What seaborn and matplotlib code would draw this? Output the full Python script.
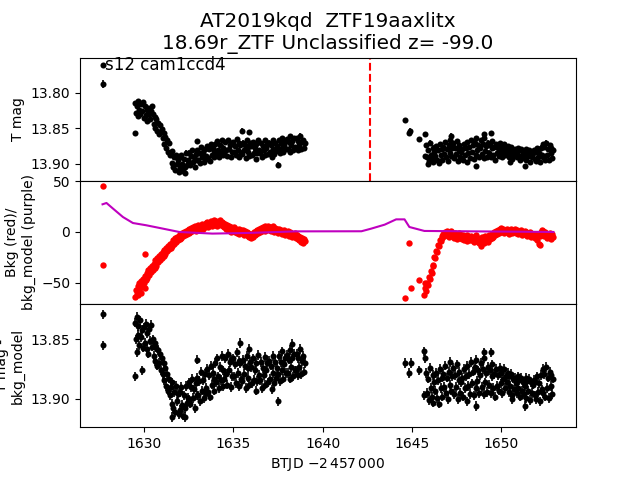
import numpy as np
import matplotlib
matplotlib.use("Agg")
import matplotlib.pyplot as plt
import seaborn as sns

# ---------------- data ----------------
# regular time grids (BTJD - 2457000) of the two TESS orbits
seg1_start, seg1_stop = 1629.5, 1639.0
seg2_start, seg2_stop = 1645.8, 1652.9

# T mag, orbit 1
tmag1 = [13.814, 13.828, 13.819, 13.833, 13.811, 13.824, 13.830, 13.816, 13.826, 13.813,
         13.835, 13.819, 13.831, 13.824, 13.839, 13.821, 13.829, 13.837, 13.826, 13.818,
         13.830, 13.844, 13.834, 13.849, 13.837, 13.853, 13.842, 13.858, 13.845, 13.855,
         13.851, 13.864, 13.856, 13.872, 13.862, 13.877, 13.866, 13.883, 13.871, 13.887,
         13.886, 13.899, 13.882, 13.904, 13.891, 13.909, 13.887, 13.900, 13.894, 13.912,
         13.891, 13.906, 13.887, 13.900, 13.910, 13.893, 13.904, 13.884, 13.901, 13.895,
         13.899, 13.884, 13.901, 13.889, 13.881, 13.897, 13.891, 13.905, 13.886, 13.895,
         13.881, 13.895, 13.884, 13.899, 13.876, 13.891, 13.883, 13.897, 13.879, 13.893,
         13.889, 13.875, 13.892, 13.879, 13.896, 13.872, 13.887, 13.878, 13.891, 13.882,
         13.872, 13.886, 13.868, 13.881, 13.890, 13.874, 13.884, 13.866, 13.888, 13.877,
         13.885, 13.869, 13.881, 13.889, 13.866, 13.879, 13.873, 13.891, 13.871, 13.883,
         13.869, 13.883, 13.875, 13.888, 13.865, 13.880, 13.871, 13.890, 13.873, 13.884,
         13.886, 13.870, 13.881, 13.874, 13.892, 13.867, 13.883, 13.876, 13.889, 13.871,
         13.875, 13.887, 13.869, 13.884, 13.877, 13.893, 13.872, 13.885, 13.866, 13.881,
         13.884, 13.871, 13.890, 13.875, 13.881, 13.867, 13.887, 13.877, 13.872, 13.886,
         13.870, 13.883, 13.874, 13.891, 13.867, 13.879, 13.886, 13.871, 13.882, 13.875,
         13.880, 13.866, 13.885, 13.871, 13.877, 13.863, 13.883, 13.873, 13.868, 13.879,
         13.865, 13.879, 13.869, 13.883, 13.861, 13.874, 13.868, 13.881, 13.864, 13.876,
         13.877, 13.864, 13.880, 13.868, 13.874, 13.860, 13.879, 13.869, 13.866, 13.877,
         13.871]
# T mag, orbit 2
tmag2 = [13.874, 13.891, 13.880, 13.896, 13.870, 13.887, 13.893, 13.877, 13.898, 13.883,
         13.889, 13.875, 13.895, 13.881, 13.899, 13.872, 13.887, 13.879, 13.894, 13.876,
         13.886, 13.869, 13.891, 13.879, 13.896, 13.874, 13.884, 13.866, 13.889, 13.878,
         13.871, 13.892, 13.877, 13.886, 13.868, 13.896, 13.881, 13.874, 13.891, 13.883,
         13.879, 13.894, 13.872, 13.887, 13.878, 13.898, 13.869, 13.885, 13.876, 13.892,
         13.866, 13.883, 13.874, 13.893, 13.870, 13.887, 13.864, 13.881, 13.873, 13.891,
         13.877, 13.867, 13.886, 13.872, 13.892, 13.863, 13.882, 13.875, 13.890, 13.870,
         13.884, 13.873, 13.891, 13.878, 13.868, 13.887, 13.876, 13.894, 13.872, 13.885,
         13.877, 13.889, 13.871, 13.883, 13.875, 13.891, 13.880, 13.872, 13.887, 13.878,
         13.883, 13.875, 13.890, 13.878, 13.885, 13.876, 13.893, 13.880, 13.888, 13.879,
         13.884, 13.891, 13.878, 13.887, 13.881, 13.894, 13.879, 13.889, 13.883, 13.892,
         13.886, 13.879, 13.895, 13.882, 13.889, 13.880, 13.897, 13.883, 13.891, 13.885,
         13.881, 13.893, 13.883, 13.896, 13.878, 13.890, 13.884, 13.898, 13.877, 13.888,
         13.872, 13.891, 13.876, 13.894, 13.870, 13.887, 13.879, 13.895, 13.874, 13.885,
         13.877, 13.892, 13.880]
# isolated / outlying T mag points
tmag_x_t = [1627.69, 1627.69, 1629.48, 1633.0, 1635.5, 1635.9, 1637.5, 1632.3,
            1644.61, 1644.85, 1644.90, 1645.40, 1645.70, 1645.75, 1645.90, 1647.2,
            1648.6, 1649.0, 1649.4, 1650.5, 1651.3]
tmag_x_v = [13.760, 13.787, 13.857, 13.868, 13.853, 13.855, 13.901, 13.913,
            13.838, 13.856, 13.853, 13.865, 13.858, 13.889, 13.900, 13.860,
            13.903, 13.858, 13.857, 13.898, 13.903]
tmag_x_e = [0.002, 0.006, 0.003, 0.003, 0.003, 0.003, 0.003, 0.003,
            0.003, 0.003, 0.003, 0.003, 0.003, 0.003, 0.003, 0.003,
            0.003, 0.003, 0.003, 0.003, 0.003]
tmag_err = 0.003

# background flux, orbit 1 and 2
bkg1 = [-64, -57, -61, -53, -59, -50, -55, -48, -52, -46,
        -50, -43, -47, -40, -45, -37, -42, -35, -39, -33,
        -37, -31, -35, -28, -33, -26, -30, -24, -28, -22,
        -26, -20, -24, -18, -22, -16, -19, -14, -17, -12,
        -16, -11, -14, -8, -12, -6, -10, -5, -8, -4,
        -7, -2, -6, -1, -4, 0, -3, 1, -2, 2,
        -1, 3, 0, 4, 1, 5, 2, 6, 1, 4,
        3, 7, 2, 6, 4, 8, 3, 7, 5, 9,
        6, 10, 5, 9, 7, 11, 6, 10, 8, 12,
        7, 11, 6, 10, 8, 12, 7, 10, 6, 9,
        5, 8, 3, 7, 2, 6, 1, 5, 0, 4,
        2, 5, 0, 3, -1, 2, -2, 3, 0, 2,
        -1, 2, -3, 1, -2, 0, -4, -1, -5, -2,
        -6, -2, -5, 0, -3, 1, -2, 2, -1, 3,
        0, 4, 1, 5, 2, 6, 1, 5, 3, 6,
        2, 5, 1, 4, 2, 6, 0, 4, 1, 3,
        -1, 3, 0, 2, -2, 1, -1, 2, -3, 0,
        -2, 1, -4, 0, -3, -1, -5, -2, -4, -1,
        -6, -3, -7, -4, -8, -5, -10, -6, -11, -7,
        -9]
bkg2 = [-58, -50, -52, -44, -46, -38, -40, -32, -33, -25,
        -26, -19, -20, -13, -14, -8, -9, -4, -6, -2,
        -4, 0, -3, 1, -2, -5, -1, -3, 1, -4,
        -2, -6, -1, -4, -7, -2, -5, -1, -6, -3,
        -7, -3, -8, -4, -6, -9, -3, -7, -5, -8,
        -4, -8, -6, -10, -5, -9, -3, -7, -6, -11,
        -7, -14, -5, -9, -6, -11, -4, -8, -5, -10,
        -3, -7, -4, -6, -2, -5, 0, -3, 1, -2,
        2, -1, 3, 0, 4, 1, 3, -1, 2, 0,
        3, 0, 2, -2, 1, 3, -1, 2, 0, 3,
        -1, 2, 0, -2, 1, -1, 2, -3, 0, -2,
        1, -2, 0, -4, -1, -3, 0, -5, -2, -4,
        -3, -6, -2, -5, -8, -3, -12, -4, 0, 2,
        -2, 1, -4, 0, -3, -6, -2, -5, -1, -7,
        -4, -2, -5]
bkg_x_t = [1627.69, 1627.69, 1630.09, 1629.65, 1629.85, 1630.05,
           1644.61, 1644.82, 1644.95, 1645.37, 1645.69, 1645.72, 1645.75, 1652.17]
bkg_x_v = [44.8, -32.6, -21.2, -62, -60, -55,
           -65.3, -10.4, -55.5, -47.7, -62, -55, -50, -13]

# background model (purple line)
model_t = [1627.69, 1627.91, 1628.28, 1628.83, 1629.39, 1630.13, 1631.06, 1631.98,
           1633.83, 1635.69, 1637.54, 1638.47, 1642.17, 1642.72, 1643.47, 1644.11,
           1644.58, 1644.85, 1645.69, 1647.72, 1652.91]
model_v = [27.2, 28.5, 22.9, 14.7, 8.8, 6.6, 3.3, 0.0,
           -1.6, -1.0, 0.0, 0.6, 0.7, 3.3, 7.2, 12.4,
           12.4, 4.9, 1.0, 0.7, 0.0]

# T mag - bkg_model, orbit 1 and 2
corr1 = [13.836, 13.850, 13.831, 13.846, 13.839, 13.855, 13.834, 13.848, 13.842, 13.857,
         13.840, 13.853, 13.837, 13.858, 13.845, 13.862, 13.841, 13.851, 13.838, 13.856,
         13.850, 13.864, 13.853, 13.868, 13.857, 13.872, 13.859, 13.870, 13.862, 13.876,
         13.866, 13.879, 13.870, 13.884, 13.874, 13.889, 13.879, 13.893, 13.883, 13.897,
         13.890, 13.904, 13.886, 13.908, 13.894, 13.911, 13.889, 13.902, 13.896, 13.913,
         13.894, 13.909, 13.890, 13.905, 13.914, 13.897, 13.908, 13.889, 13.903, 13.899,
         13.901, 13.886, 13.904, 13.890, 13.883, 13.899, 13.892, 13.908, 13.887, 13.897,
         13.882, 13.897, 13.885, 13.902, 13.877, 13.893, 13.884, 13.899, 13.879, 13.895,
         13.891, 13.875, 13.894, 13.880, 13.898, 13.872, 13.888, 13.878, 13.893, 13.883,
         13.870, 13.886, 13.866, 13.881, 13.891, 13.873, 13.884, 13.864, 13.889, 13.876,
         13.883, 13.866, 13.879, 13.888, 13.862, 13.876, 13.869, 13.890, 13.867, 13.881,
         13.866, 13.881, 13.871, 13.887, 13.861, 13.878, 13.868, 13.889, 13.870, 13.883,
         13.885, 13.867, 13.879, 13.872, 13.891, 13.864, 13.882, 13.874, 13.888, 13.869,
         13.873, 13.887, 13.866, 13.884, 13.876, 13.893, 13.870, 13.885, 13.863, 13.880,
         13.884, 13.869, 13.891, 13.874, 13.880, 13.865, 13.888, 13.876, 13.870, 13.886,
         13.868, 13.883, 13.872, 13.892, 13.864, 13.878, 13.887, 13.869, 13.882, 13.874,
         13.879, 13.864, 13.885, 13.869, 13.876, 13.860, 13.883, 13.871, 13.866, 13.878,
         13.863, 13.878, 13.867, 13.883, 13.859, 13.873, 13.866, 13.881, 13.862, 13.876,
         13.876, 13.862, 13.880, 13.866, 13.873, 13.858, 13.879, 13.868, 13.864, 13.877,
         13.870]
corr2 = [13.878, 13.895, 13.883, 13.901, 13.874, 13.891, 13.898, 13.880, 13.903, 13.886,
         13.893, 13.878, 13.899, 13.884, 13.904, 13.875, 13.891, 13.882, 13.898, 13.879,
         13.890, 13.872, 13.895, 13.882, 13.900, 13.877, 13.888, 13.869, 13.893, 13.881,
         13.874, 13.896, 13.880, 13.890, 13.871, 13.900, 13.884, 13.877, 13.895, 13.886,
         13.882, 13.898, 13.875, 13.891, 13.881, 13.902, 13.872, 13.889, 13.879, 13.896,
         13.869, 13.887, 13.877, 13.897, 13.873, 13.891, 13.867, 13.885, 13.876, 13.895,
         13.880, 13.870, 13.890, 13.875, 13.896, 13.866, 13.886, 13.878, 13.894, 13.873,
         13.888, 13.876, 13.895, 13.881, 13.871, 13.891, 13.879, 13.898, 13.875, 13.889,
         13.880, 13.893, 13.874, 13.887, 13.878, 13.895, 13.883, 13.875, 13.891, 13.881,
         13.886, 13.878, 13.894, 13.881, 13.889, 13.879, 13.897, 13.883, 13.892, 13.882,
         13.887, 13.895, 13.881, 13.891, 13.884, 13.898, 13.882, 13.893, 13.886, 13.896,
         13.889, 13.882, 13.899, 13.885, 13.893, 13.883, 13.901, 13.886, 13.895, 13.888,
         13.884, 13.897, 13.886, 13.900, 13.881, 13.894, 13.887, 13.902, 13.880, 13.892,
         13.875, 13.895, 13.879, 13.898, 13.873, 13.891, 13.882, 13.899, 13.877, 13.889,
         13.880, 13.896, 13.883]
corr_x_t = [1627.69, 1627.69, 1629.48, 1629.6, 1629.9, 1631.6, 1632.3, 1637.5,
            1633.0, 1635.4, 1635.9, 1638.3,
            1644.61, 1644.82, 1644.95, 1645.37, 1645.69, 1645.69, 1645.75,
            1648.6, 1649.0, 1649.4, 1650.6, 1651.3]
corr_x_v = [13.829, 13.855, 13.881, 13.861, 13.876, 13.915, 13.915, 13.902,
            13.867, 13.853, 13.858, 13.854,
            13.870, 13.878, 13.870, 13.876, 13.860, 13.897, 13.866,
            13.906, 13.861, 13.861, 13.900, 13.906]
corr_err = 0.004

peak_time = 1642.63
title = "AT2019kqd  ZTF19aaxlitx\n18.69r_ZTF Unclassified z= -99.0"
sector_label = "s12 cam1ccd4"

# ---------------- assemble ----------------
t1 = np.round(np.linspace(seg1_start, seg1_stop, len(tmag1)), 3)
t2 = np.round(np.linspace(seg2_start, seg2_stop, len(tmag2)), 3)
t_all = np.concatenate([t1, t2])

t_mag_t = np.concatenate([t_all, tmag_x_t])
t_mag_v = np.concatenate([tmag1, tmag2, tmag_x_v])
t_mag_e = np.concatenate([np.full(len(t_all), tmag_err), tmag_x_e])

bkg_t = np.concatenate([t_all, bkg_x_t])
bkg_v = np.concatenate([bkg1, bkg2, bkg_x_v])

corr_t = np.concatenate([t_all, corr_x_t])
corr_v = np.concatenate([corr1, corr2, corr_x_v])

# ---------------- plot ----------------
fig, axes = plt.subplots(3, 1, sharex=True, figsize=(6.4, 4.8), dpi=100)
fig.subplots_adjust(hspace=0)
ax1, ax2, ax3 = axes

ms_area = 19
ax1.errorbar(t_mag_t, t_mag_v, yerr=t_mag_e, fmt="none", ecolor="k", elinewidth=1.2)
sns.scatterplot(x=t_mag_t, y=t_mag_v, ax=ax1, color="k", s=ms_area, linewidth=0, legend=False)
ax1.axvline(peak_time, color="r", ls="--", lw=1.5)
ax1.invert_yaxis()
ax1.set_ylabel("T mag")
ax1.set_title(title, fontsize=14.4)
ax1.text(0.05, 0.9, sector_label, transform=ax1.transAxes, fontsize=12)

sns.scatterplot(x=bkg_t, y=bkg_v, ax=ax2, color="r", s=ms_area + 2, linewidth=0, legend=False)
sns.lineplot(x=model_t, y=model_v, ax=ax2, color="m", lw=1.5, sort=True)
ax2.set_ylabel("Bkg (red)/\nbkg_model (purple)")

ax3.errorbar(corr_t, corr_v, yerr=corr_err, fmt="none", ecolor="k", elinewidth=1.2)
sns.scatterplot(x=corr_t, y=corr_v, ax=ax3, color="k", s=ms_area, linewidth=0, legend=False)
ax3.invert_yaxis()
ax3.set_ylabel("T mag -\nbkg_model")
ax3.set_xlabel(r"BTJD $-2\,457\,000$")

for ax in axes:
    ax.margins(x=0.05)

fig.savefig("out.png", dpi=100)
